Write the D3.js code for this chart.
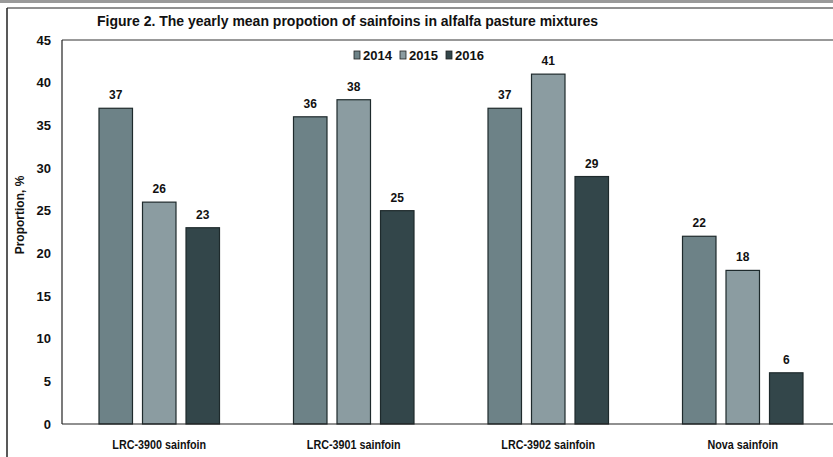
<!DOCTYPE html>
<html><head><meta charset="utf-8">
<script src="https://cdn.jsdelivr.net/npm/d3@7"></script>
<style>
body{margin:0;background:#fff;}
svg text{font-family:"Liberation Sans Narrow","Liberation Sans",Arial,sans-serif;font-weight:bold;fill:#111;}
</style></head><body>
<svg id="c" width="833" height="457"></svg>
<script>
const categories = ["LRC-3900 sainfoin","LRC-3901 sainfoin","LRC-3902 sainfoin","Nova sainfoin"];
const years = ["2014","2015","2016"];
const v2014 = [37,36,37,22];
const v2015 = [26,38,41,18];
const v2016 = [23,25,29,6];
const yTicks = [0,5,10,15,20,25,30,35,40,45];
const colors = ["#6d8287","#8b9ca1","#33464a"];
const series = [v2014,v2015,v2016];

const svg = d3.select("#c");
const L=62, R=840, T=40, B=424;
const FONT = '"Liberation Sans Narrow","Liberation Sans",Arial,sans-serif';

// outer frame
svg.append("rect").attr("x",0).attr("y",0).attr("width",833).attr("height",3).attr("fill","#9a9a9a");
svg.append("line").attr("x1",7).attr("x2",833).attr("y1",8).attr("y2",8).attr("stroke","#222").attr("stroke-width",1.2);
svg.append("line").attr("x1",7).attr("x2",7).attr("y1",8).attr("y2",457).attr("stroke","#222").attr("stroke-width",1.5);

const x0 = d3.scaleBand().domain(categories).range([L,R]).paddingInner(0).paddingOuter(0);
const x1 = d3.scaleBand().domain(years).range([37, x0.bandwidth()-37]).paddingInner(0.23);
const y = d3.scaleLinear().domain([0,45]).range([B,T]);

// plot box lines
svg.append("line").attr("x1",L).attr("x2",833).attr("y1",T).attr("y2",T).attr("stroke","#333").attr("stroke-width",1);
svg.append("line").attr("x1",L).attr("x2",L).attr("y1",T).attr("y2",B).attr("stroke","#222").attr("stroke-width",1.2);

const g = svg.append("g");
categories.forEach((c,i)=>{
  years.forEach((yr,j)=>{
    const val = series[j][i];
    const bx = x0(c)+x1(yr);
    g.append("rect").attr("x",bx).attr("y",y(val)).attr("width",x1.bandwidth()).attr("height",B-y(val))
      .attr("fill",colors[j]).attr("stroke","#1e2a2c").attr("stroke-width",1.2);
    g.append("text").attr("x",bx+x1.bandwidth()/2).attr("y",y(val)-9).attr("text-anchor","middle")
      .attr("font-size",12).text(val);
  });
});

// bottom axis line
svg.append("line").attr("x1",L).attr("x2",833).attr("y1",B).attr("y2",B).attr("stroke","#222").attr("stroke-width",1.2);

// y axis labels
const ya = svg.append("g").attr("transform",`translate(${L},0)`)
  .call(d3.axisLeft(y).tickValues(yTicks).tickSize(0).tickPadding(11));
ya.select(".domain").remove();
ya.selectAll("text").attr("font-size",13).style("font-family",FONT).style("font-weight","bold").attr("fill","#111");

// x axis labels
const xa = svg.append("g").attr("transform",`translate(0,${B})`)
  .call(d3.axisBottom(x0).tickSize(0).tickPadding(16));
xa.select(".domain").remove();
xa.selectAll("text").attr("font-size",12.5).style("font-family",FONT).style("font-weight","bold").attr("fill","#111")
  .each(function(){ const w=this.getComputedTextLength(); d3.select(this).attr("textLength",w*0.86).attr("lengthAdjust","spacingAndGlyphs"); });

// y label
svg.append("text").attr("transform","translate(24,215) rotate(-90)").attr("text-anchor","middle")
  .attr("font-size",12).text("Proportion, %");

// title
svg.append("text").attr("x",97).attr("y",26).attr("font-size",15).attr("textLength",501).attr("lengthAdjust","spacingAndGlyphs")
  .text("Figure 2. The yearly mean propotion of sainfoins in alfalfa pasture mixtures");

// legend
const legX = [354,400,446];
years.forEach((yr,j)=>{
  svg.append("rect").attr("x",legX[j]).attr("y",51).attr("width",6).attr("height",8).attr("fill",colors[j]).attr("stroke","#222").attr("stroke-width",0.8);
  svg.append("text").attr("x",legX[j]+9).attr("y",59.5).attr("font-size",12.5).attr("textLength",29).attr("lengthAdjust","spacingAndGlyphs").text(yr);
});
</script>
</body></html>
